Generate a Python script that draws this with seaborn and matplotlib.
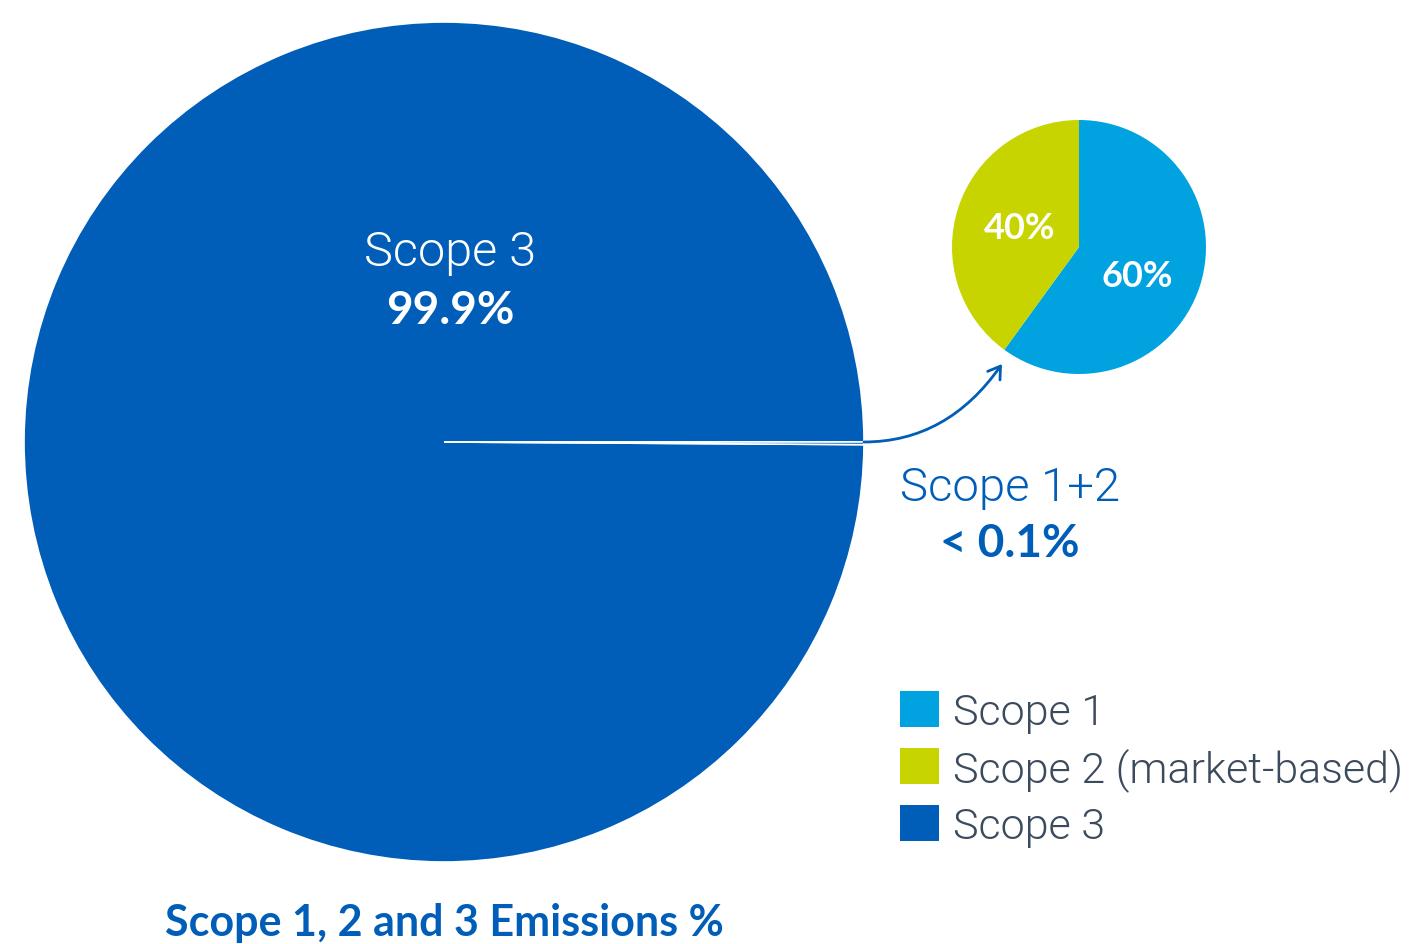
import matplotlib
matplotlib.use("Agg")
import matplotlib.pyplot as plt
import seaborn as sns
from matplotlib.patches import Patch

# === DATA ===
big_labels = ["Scope 3", "Scope 1+2"]
big_values = [99.9, 0.1]
small_labels = ["Scope 1", "Scope 2 (market-based)"]
small_values = [60, 40]
legend_labels = ["Scope 1", "Scope 2 (market-based)", "Scope 3"]

# === STYLE ===
sns.set_theme(style="white")
plt.rcParams['font.family'] = ['Lato', 'DejaVu Sans']
LIGHT = dict(family=['Roboto', 'DejaVu Sans'], fontweight=300)

BLUE_DARK = "#005eb8"
BLUE_LIGHT = "#00a3e0"
LIME = "#c8d400"
TEXT_GREY = "#3b4a5c"
palette = sns.color_palette([BLUE_LIGHT, LIME, BLUE_DARK])

W, H = 1413, 945
fig = plt.figure(figsize=(W / 100, H / 100), dpi=100)
ax = fig.add_axes([0, 0, 1, 1])

# big pie (pixel coords, y flipped); the tiny slice shows as a white line
ax.pie(big_values, colors=[BLUE_DARK, BLUE_DARK], startangle=0,
       center=(444, H - 443), radius=420,
       wedgeprops=dict(edgecolor="white", linewidth=1.2))

# small pie
wedges, texts = ax.pie(small_values, colors=[palette[0], palette[1]],
                       startangle=90, counterclock=False,
                       center=(1079, H - 248), radius=127,
                       wedgeprops=dict(linewidth=0))

ax.set_xlim(0, W)
ax.set_ylim(0, H)
ax.set_aspect("equal")
ax.axis("off")

# labels on the big pie
ax.text(450, H - 253, big_labels[0], color="white", fontsize=35,
        ha="center", va="center", **LIGHT)
ax.text(450, H - 311, f"{big_values[0]}%", color="white", fontsize=33,
        fontweight="bold", ha="center", va="center")

# labels on the small pie
ax.text(1020, H - 229, f"{small_values[1]}%", color="white", fontsize=26,
        fontweight="bold", ha="center", va="center")
ax.text(1137, H - 277, f"{small_values[0]}%", color="white", fontsize=26,
        fontweight="bold", ha="center", va="center")

# scope 1+2 callout
ax.text(1010, H - 488, big_labels[1], color=BLUE_DARK, fontsize=34,
        ha="center", va="center", **LIGHT)
ax.text(1010, H - 544, f"< {big_values[1]}%", color=BLUE_DARK, fontsize=33,
        fontweight="bold", ha="center", va="center")

# curved arrow from big pie to small pie
ax.annotate("", xy=(1002, H - 365), xytext=(864, H - 443),
            arrowprops=dict(arrowstyle="->,head_length=0.7,head_width=0.45",
                            color=BLUE_DARK, lw=2,
                            connectionstyle="angle3,angleA=0,angleB=55",
                            shrinkA=0, shrinkB=0))

# legend
handles = [Patch(facecolor=c, edgecolor="none") for c in palette]
leg = ax.legend(handles, legend_labels, loc="upper left",
                bbox_to_anchor=(900 / W, 1 - 692 / H),
                bbox_transform=fig.transFigure, frameon=False,
                prop=dict(family=['Roboto', 'DejaVu Sans'], weight=300, size=31),
                handlelength=0.9, handleheight=0.9,
                handletextpad=0.33, labelspacing=0.33, borderpad=0,
                borderaxespad=0)
for t in leg.get_texts():
    t.set_color(TEXT_GREY)

# title at the bottom
ax.text(444, H - 923, "Scope 1, 2 and 3 Emissions %", color=BLUE_DARK,
        fontsize=31, fontweight="bold", ha="center", va="center")

fig.savefig("out.png", dpi=100)
